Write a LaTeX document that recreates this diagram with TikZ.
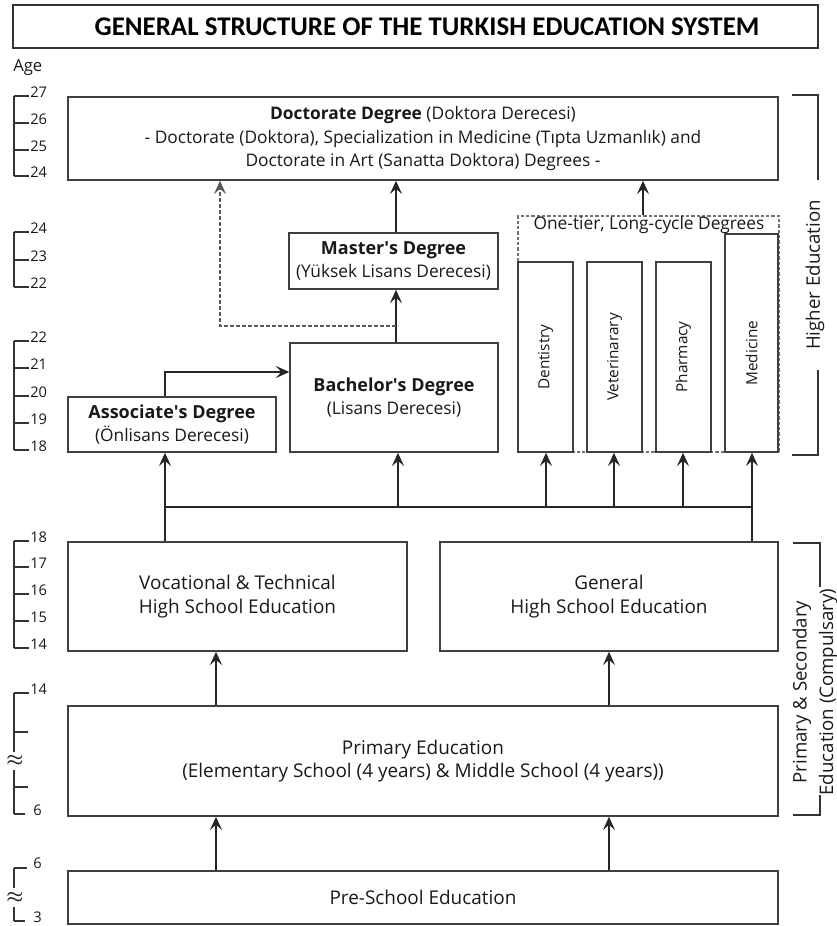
\documentclass[tikz,border=0pt]{standalone}
\usepackage{fontspec}
\setmainfont{Open Sans}
\newfontfamily\titlefont{Carlito}
\newcommand\hdfont{\bfseries\fontsize{13.5}{17.3}\selectfont}
\usetikzlibrary{arrows.meta,calc}
\begin{document}
\begin{tikzpicture}[x=0.75pt,y=-0.75pt,
  sz/.style 2 args={minimum width=#1*0.75pt, minimum height=#2*0.75pt},
  box/.style={draw=black!75, line width=1.1pt, inner sep=0pt, align=center,
    font=\fontsize{13}{17.3}\selectfont, text=black!90},
  bigbox/.style={box, font=\fontsize{14.2}{17.6}\selectfont},
  vtext/.style={rotate=90, font=\fontsize{11.5}{14}\selectfont, text=black!90},
  arr/.style={draw=black!85, line width=1.1pt, -{Stealth[length=10pt,width=9pt,inset=4pt]}},
  plain/.style={draw=black!85, line width=1.1pt},
  dasharr/.style={draw=black!65, line width=1.1pt, dash pattern=on 3pt off 1.5pt, -{Stealth[length=10pt,width=9pt,inset=4pt]}},
  scale line/.style={draw=black!80, line width=1pt},
  agelab/.style={anchor=base west, inner sep=0pt, font=\fontsize{11}{12}\selectfont, text=black!90},
  approxlab/.style={inner sep=0pt, font=\boldmath\fontsize{15}{15}\selectfont, text=black!85},
  bracketlab/.style={rotate=90, align=center, font=\fontsize{14}{20}\selectfont, text=black!90}
]
\useasboundingbox (0,0) rectangle (837,926);

% title
\node[draw=black!80, line width=1pt, inner sep=0pt, sz={805}{43}] (title) at (415.5,26.5) {};
\node[font=\titlefont\bfseries\fontsize{20.2}{24}\selectfont] (titletext) at (427,27) {GENERAL STRUCTURE OF THE TURKISH EDUCATION SYSTEM};

% boxes
\node[box, sz={710}{83}] (doc) at (423,138.5) {{\bfseries Doctorate Degree} (Doktora Derecesi)\\- Doctorate (Doktora), Specialization in Medicine (Tıpta Uzmanlık) and\\Doctorate in Art (Sanatta Doktora) Degrees -};
\node[box, sz={209}{56}] (mast) at (393.5,261) {{\hdfont Master\textquotesingle s Degree}\\(Yüksek Lisans Derecesi)};
\node[box, sz={208}{109}] (bach) at (394,397.5) {{\hdfont Bachelor\textquotesingle s Degree}\\(Lisans Derecesi)};
\node[box, sz={208}{55}] (asc) at (172,424.5) {{\hdfont Associate\textquotesingle s Degree}\\(Önlisans Derecesi)};

\node[draw=black!55, line width=0.9pt, dash pattern=on 2.5pt off 1.5pt, inner sep=0pt, sz={261}{236}] (onetier) at (648.5,334) {};
\node[font=\fontsize{13}{15}\selectfont, text=black!90, inner sep=0pt] (onetierlab) at (649,225) {One-tier, Long-cycle Degrees};

\node[box, sz={55}{190}] (dent) at (545.5,357) {};
\node[box, sz={55}{190}] (vet) at (614.5,357) {};
\node[box, sz={55}{190}] (phar) at (683.5,357) {};
\node[box, sz={53}{218}] (med) at (751.5,343) {};
\node[vtext] (dentT) at (dent) {Dentistry};
\node[vtext] (vetT) at (vet) {Veterinarary};
\node[vtext] (pharT) at (phar) {Pharmacy};
\node[vtext] (medT) at ($(med.center)+(0,10)$) {Medicine};

\node[bigbox, sz={339}{109}] (voc) at (237.5,596.5) {Vocational \& Technical\\High School Education};
\node[bigbox, sz={338}{109}] (gen) at (609,596.5) {General\\High School Education};
\node[bigbox, sz={710}{110}] (prim) at (423,761) {Primary Education\\(Elementary School (4 years) \& Middle School (4 years))};
\node[bigbox, sz={710}{53}] (pre) at (423,897.5) {Pre-School Education};

% helper coordinates
\coordinate (xa) at (216,0);
\coordinate (xb) at (609,0);
\coordinate (busL) at (165,507);
\coordinate (busR) at (752,507);
\coordinate (xbach) at (398,0);
\coordinate (xdent) at (546,0);
\coordinate (xvet) at (614,0);
\coordinate (xphar) at (683,0);
\coordinate (ab) at (165,372);
\coordinate (xm) at (396,0);
\coordinate (dj) at (396,326);
\coordinate (dk) at (220,326);
\coordinate (xo) at (643,0);

% connectors
\draw[arr] (pre.north -| xa) -- (prim.south -| xa);
\draw[arr] (pre.north -| xb) -- (prim.south -| xb);
\draw[arr] (prim.north -| xa) -- (voc.south -| xa);
\draw[arr] (prim.north -| xb) -- (gen.south -| xb);
\draw[plain] (voc.north -| busL) -- (busL) -- (busR) -- (gen.north -| busR);
\draw[arr] (busL) -- (asc.south -| busL);
\draw[arr] (busL -| xbach) -- (bach.south -| xbach);
\draw[arr] (busL -| xdent) -- (dent.south -| xdent);
\draw[arr] (busL -| xvet) -- (vet.south -| xvet);
\draw[arr] (busL -| xphar) -- (phar.south -| xphar);
\draw[arr] (busR) -- (med.south -| busR);
\draw[arr] (asc.north -| ab) |- (bach.west |- ab);
\draw[arr] (bach.north -| xm) -- (mast.south -| xm);
\draw[arr] (mast.north -| xm) -- (doc.south -| xm);
\draw[dasharr] (dj) -- (dk) -- (doc.south -| dk);
\draw[arr] (onetier.north -| xo) -- (doc.south -| xo);

% age scale
\node[anchor=west, inner sep=0pt, font=\fontsize{12.5}{14}\selectfont, text=black!90] (agelabel) at (13,68) {Age};
\draw[scale line] (14,96) -- (14,176);
\foreach \y/\l in {96/27,123/26,150/25,176/24} {\draw[scale line] (14,\y) -- (29,\y); \node[agelab] at (30,\y+1) {\l};}
\draw[scale line] (14,232) -- (14,287);
\foreach \y/\l in {232/24,260/23,287/22} {\draw[scale line] (14,\y) -- (29,\y); \node[agelab] at (30,\y+1) {\l};}
\draw[scale line] (14,341) -- (14,450);
\foreach \y/\l in {341/22,368/21,396/20,423/19,450/18} {\draw[scale line] (14,\y) -- (29,\y); \node[agelab] at (30,\y+1) {\l};}
\draw[scale line] (14,541) -- (14,648);
\foreach \y/\l in {541/18,567/17,594/16,621/15,648/14} {\draw[scale line] (14,\y) -- (29,\y); \node[agelab] at (30,\y+1) {\l};}
% group 5
\draw[scale line] (14,693) -- (14,752);
\draw[scale line] (14,770) -- (14,814);
\draw[scale line] (14,693) -- (29,693);
\node[agelab] at (30,694) {14};
\draw[scale line] (14,732) -- (28,732);
\draw[scale line] (14,787) -- (28,787);
\draw[scale line] (14,814) -- (25,814);
\node[agelab] at (33,815) {6};
\node[approxlab] (apx1) at (15,761) {$\approx$};
% group 6
\draw[scale line] (14,868) -- (14,888);
\draw[scale line] (14,907) -- (14,921);
\draw[scale line] (14,868) -- (27,868);
\node[agelab] at (33,868) {6};
\draw[scale line] (14,921) -- (25,921);
\node[agelab] at (33,922) {3};
\node[approxlab] (apx2) at (15,898) {$\approx$};

% right brackets
\draw[scale line] (792,95) -- (818,95) -- (818,180);
\draw[scale line] (818,370) -- (818,455) -- (792,455);
\node[bracketlab] (higher) at (815,275) {Higher Education};
\draw[scale line] (793,543) -- (820,543) -- (820,587);
\draw[scale line] (820,795) -- (820,815) -- (793,815);
\node[bracketlab] (primsec) at (815,692) {Primary \& Secondary\\Education (Compulsary)};
\end{tikzpicture}
\end{document}
